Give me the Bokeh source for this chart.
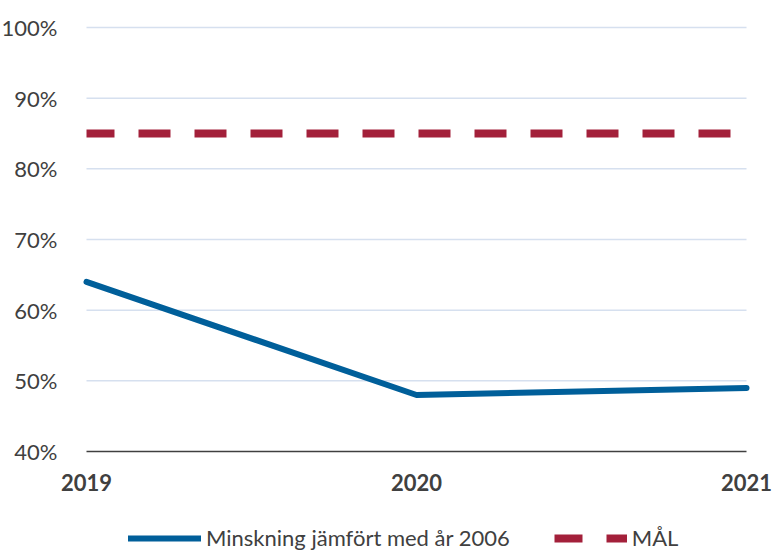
from bokeh.plotting import figure
from bokeh.models import Legend, LegendItem, FixedTicker, Range1d
from bokeh.embed import file_html
from bokeh.resources import INLINE

years = ["2019", "2020", "2021"]
minskning = [64, 48, 49]
mal = [85, 85, 85]
y_ticks = [40, 50, 60, 70, 80, 90, 100]
y_labels = ["40%", "50%", "60%", "70%", "80%", "90%", "100%"]
grid_vals = y_ticks[1:]

xs = list(range(len(years)))

# canvas geometry (pixels)
W, H = 773, 551
PLOT_L, PLOT_R = 86, 746      # where first / last category sit inside canvas
PLOT_T, PLOT_B = 27, 451      # where 100 % / 40 % sit inside canvas
px_per_x = (PLOT_R - PLOT_L) / (xs[-1] - xs[0])
px_per_y = (PLOT_B - PLOT_T) / (y_ticks[-1] - y_ticks[0])
x0 = xs[0] - PLOT_L / px_per_x
x1 = xs[-1] + (W - PLOT_R) / px_per_x
y0 = y_ticks[0] - (H - PLOT_B) / px_per_y
y1 = y_ticks[-1] + PLOT_T / px_per_y

p = figure(width=W, height=H, output_backend="svg", toolbar_location=None,
           x_range=Range1d(x0, x1), y_range=Range1d(y0, y1),
           min_border_left=0, min_border_right=0, min_border_top=0, min_border_bottom=0)
p.outline_line_color = None
p.background_fill_color = "white"
p.border_fill_color = "white"

FONT = "Lato"
TXT = "#404040"

# x axis, pinned at 40 %
p.xaxis.fixed_location = y_ticks[0]
p.xaxis.bounds = (xs[0], xs[-1])
p.xaxis.ticker = FixedTicker(ticks=xs)
p.xaxis.major_label_overrides = {i: y for i, y in zip(xs, years)}
p.xaxis.major_tick_line_color = None
p.xaxis.minor_tick_line_color = None
p.xaxis.axis_line_color = "#404040"
p.xaxis.axis_line_width = 1.5
p.xaxis.major_label_text_font = FONT
p.xaxis.major_label_text_font_size = "22px"
p.xaxis.major_label_text_font_style = "bold"
p.xaxis.major_label_text_color = TXT
p.xaxis.major_label_standoff = 16

# y axis, pinned at first category
p.yaxis.fixed_location = xs[0]
p.yaxis.ticker = FixedTicker(ticks=y_ticks)
p.yaxis.major_label_overrides = {t: l for t, l in zip(y_ticks, y_labels)}
p.yaxis.axis_line_color = None
p.yaxis.major_tick_line_color = None
p.yaxis.minor_tick_line_color = None
p.yaxis.major_label_text_font = FONT
p.yaxis.major_label_text_font_size = "22px"
p.yaxis.major_label_text_color = TXT
p.yaxis.major_label_standoff = 23

p.xgrid.grid_line_color = None
p.ygrid.grid_line_color = None
p.segment(x0=[xs[0]] * len(grid_vals), x1=[xs[-1]] * len(grid_vals),
          y0=grid_vals, y1=grid_vals, line_color="#d6e0ef", line_width=1.5)

r_mal = p.line(xs, mal, line_color="#a3203a", line_width=8,
               line_dash="32 24", line_dash_offset=4)
r_min = p.line(xs, minskning, line_color="#005f9a", line_width=6,
               line_cap="round", line_join="round")

legend = Legend(items=[LegendItem(label="Minskning jämfört med år 2006", renderers=[r_min]),
                       LegendItem(label="MÅL", renderers=[r_mal])],
                orientation="horizontal", location=(128, 0),
                padding=0, margin=0, spacing=44, glyph_width=73, glyph_height=20,
                label_standoff=5, label_height=20,
                label_text_font=FONT, label_text_font_size="22px", label_text_color=TXT,
                border_line_color=None, background_fill_alpha=0)
p.add_layout(legend, "center")

open("out.html", "w").write(file_html(p, INLINE))
